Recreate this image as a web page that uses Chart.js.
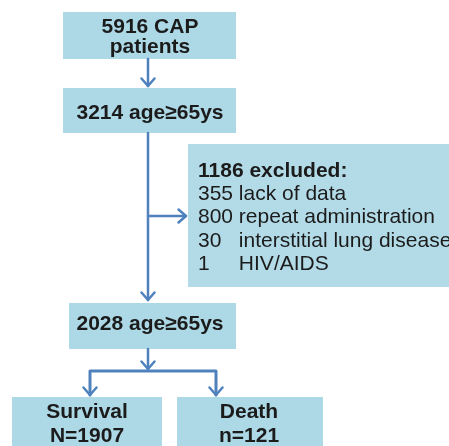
<!DOCTYPE html>
<html>
<head>
<meta charset="utf-8">
<script src="https://cdn.jsdelivr.net/npm/chart.js@4/dist/chart.umd.min.js"></script>
<style>
  html, body { margin: 0; padding: 0; background: #fff; }
  #flow { display: block; }
</style>
</head>
<body>
<canvas id="flow" width="449" height="446"></canvas>
<script>
// 数据
const stageCounts = [5916, 3214, 2028];
const stageLabels = ['CAP patients', 'age≥65ys', 'age≥65ys'];
const excludedTotal = 1186;
const excludedCounts = [355, 800, 30, 1];
const excludedReasons = ['lack of data', 'repeat administration', 'interstitial lung disease', 'HIV/AIDS'];
const outcomeLabels = ['Survival', 'Death'];
const outcomePrefix = ['N=', 'n='];
const outcomeCounts = [1907, 121];

// 版式 (坐标轴单位)
const BOX = '#add8e6';
const BOX_LIGHT = '#b3dbe7';
const LINE = '#4f81bd';
const TEXT = '#1b1b1b';
const FONT = '"Liberation Sans", Arial, sans-serif';

const stageBoxes = [
    { x0: 63, x1: 236, y0: 12, y1: 59, cx: 150, base: [33, 53] },
    { x0: 63, x1: 236, y0: 88, y1: 133, cx: 150, base: [119] },
    { x0: 69, x1: 236, y0: 303, y1: 349, cx: 150, base: [330] }
];
const excludedBox = { x0: 188, x1: 452, y0: 144, y1: 287, tx: 198, base: [177, 200, 223, 247, 270] };
const outcomeBoxes = [
    { x0: 12, x1: 162, y0: 397, y1: 452, cx: 87, base: [418, 442] },
    { x0: 177, x1: 323, y0: 397, y1: 452, cx: 249, base: [418, 442] }
];

function stageLines(i) {
    if (i === 0) {
        const parts = stageLabels[0].split(' ');
        return [stageCounts[0] + ' ' + parts[0], parts[1]];
    }
    return [stageCounts[i] + ' ' + stageLabels[i]];
}

const flowPlugin = {
    id: 'flow',
    afterDraw(chart) {
        const ctx = chart.ctx;
        const sx = chart.scales.x, sy = chart.scales.y;
        const px = v => sx.getPixelForValue(v);
        const py = v => sy.getPixelForValue(v);

        function rect(b, color) {
            ctx.fillStyle = color;
            ctx.fillRect(px(b.x0), py(b.y0), px(b.x1) - px(b.x0), py(b.y1) - py(b.y0));
        }
        function line(pts) {
            ctx.beginPath();
            pts.forEach((p, k) => k ? ctx.lineTo(px(p[0]), py(p[1])) : ctx.moveTo(px(p[0]), py(p[1])));
            ctx.stroke();
        }
        function head(x, y, dir) {
            const s = 6.5;
            ctx.beginPath();
            if (dir === 'down') {
                ctx.moveTo(px(x - s), py(y - s - 1));
                ctx.lineTo(px(x), py(y));
                ctx.lineTo(px(x + s), py(y - s - 1));
            } else {
                ctx.moveTo(px(x - s - 1), py(y - s));
                ctx.lineTo(px(x), py(y));
                ctx.lineTo(px(x - s - 1), py(y + s));
            }
            ctx.stroke();
        }

        ctx.save();
        // 方框
        stageBoxes.forEach(b => rect(b, BOX));
        rect(excludedBox, BOX_LIGHT);
        outcomeBoxes.forEach(b => rect(b, BOX));

        // 箭头
        ctx.strokeStyle = LINE;
        ctx.lineWidth = 2.5;
        ctx.lineCap = 'round';
        ctx.lineJoin = 'round';
        line([[148, 59], [148, 86]]); head(148, 86, 'down');
        line([[148, 133], [148, 300]]); head(148, 300, 'down');
        line([[148, 216], [186, 216]]); head(186, 216, 'right');
        line([[148, 349], [148, 369]]); head(148, 369, 'down');
        ctx.lineWidth = 3;
        line([[90, 395], [90, 371], [216, 371], [216, 395]]);
        ctx.lineWidth = 2.5;
        head(90, 395, 'down');
        head(216, 395, 'down');

        // 文字
        ctx.fillStyle = TEXT;
        ctx.textBaseline = 'alphabetic';
        ctx.font = 'bold 21px ' + FONT;
        ctx.textAlign = 'center';
        stageBoxes.forEach((b, i) => {
            stageLines(i).forEach((t, k) => ctx.fillText(t, px(b.cx), py(b.base[k])));
        });
        outcomeBoxes.forEach((b, i) => {
            ctx.fillText(outcomeLabels[i], px(b.cx), py(b.base[0]));
            ctx.fillText(outcomePrefix[i] + outcomeCounts[i], px(b.cx), py(b.base[1]));
        });

        ctx.textAlign = 'left';
        ctx.fillText(excludedTotal + ' excluded:', px(excludedBox.tx), py(excludedBox.base[0]));
        ctx.font = '21px ' + FONT;
        const col = ctx.measureText(excludedCounts[0] + ' ').width;
        excludedCounts.forEach((n, i) => {
            const y = py(excludedBox.base[i + 1]);
            ctx.fillText(String(n), px(excludedBox.tx), y);
            ctx.fillText(excludedReasons[i], px(excludedBox.tx) + col, y);
        });
        ctx.restore();
    }
};

new Chart(document.getElementById('flow'), {
    type: 'scatter',
    data: { datasets: [{ data: [], pointRadius: 0 }] },
    options: {
        responsive: false,
        animation: false,
        layout: { padding: 0 },
        plugins: { legend: { display: false }, tooltip: { enabled: false } },
        scales: {
            x: { type: 'linear', min: 0, max: 449, display: false },
            y: { type: 'linear', min: 0, max: 446, reverse: true, display: false }
        }
    },
    plugins: [flowPlugin]
});
</script>
</body>
</html>
